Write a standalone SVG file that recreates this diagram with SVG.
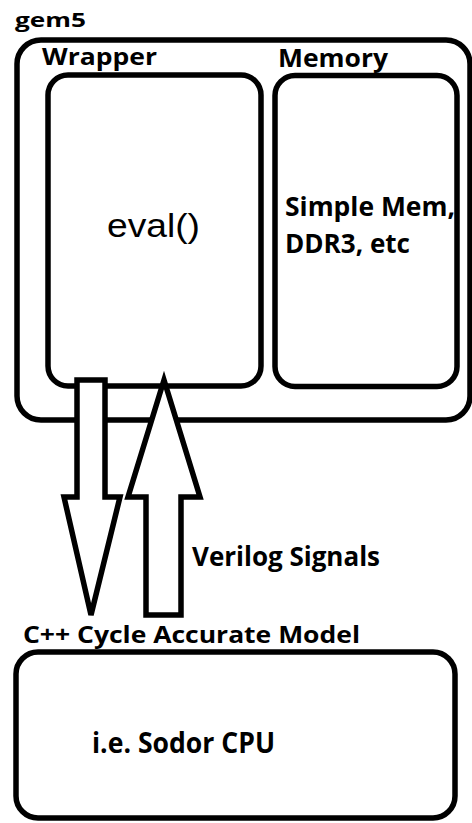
<svg xmlns="http://www.w3.org/2000/svg" width="472" height="823" viewBox="0 0 472 823">
<style>
.box{fill:#fff;stroke:#000;stroke-width:5.5}
.arrow{fill:#fff;stroke:#000;stroke-width:5.5;stroke-linejoin:miter}
.lbl{font-family:"Open Sans","Liberation Sans",sans-serif;font-weight:bold;fill:#000}
.ar{font-family:"Liberation Sans",Arial,sans-serif;fill:#000}
</style>
<rect width="472" height="823" fill="#fff"/>
<g id="node-gem5">
<rect class="box" x="17" y="40" width="453" height="380" rx="24"/>
<text class="lbl" x="15" y="27" font-size="20" textLength="71" lengthAdjust="spacingAndGlyphs">gem5</text>
</g>
<g id="node-wrapper">
<rect class="box" x="48" y="75" width="213" height="311" rx="20"/>
<text class="lbl" x="42" y="65" font-size="24" textLength="115" lengthAdjust="spacingAndGlyphs">Wrapper</text>
<text class="ar" x="107" y="237" font-size="33" textLength="93" lengthAdjust="spacingAndGlyphs">eval()</text>
</g>
<g id="node-memory">
<rect class="box" x="275" y="75.5" width="182" height="311" rx="20"/>
<text class="lbl" x="278" y="67" font-size="25" textLength="110" lengthAdjust="spacingAndGlyphs">Memory</text>
<text class="lbl" x="285" y="216" font-size="27" textLength="170" lengthAdjust="spacingAndGlyphs">Simple Mem,</text>
<text class="lbl" x="285" y="253" font-size="27" textLength="125" lengthAdjust="spacingAndGlyphs">DDR3, etc</text>
</g>
<g id="node-cpu">
<rect class="box" x="16" y="652" width="439" height="166" rx="22"/>
<text class="lbl" x="23" y="643" font-size="24" textLength="337" lengthAdjust="spacingAndGlyphs">C++ Cycle Accurate Model</text>
<text class="lbl" x="92" y="753" font-size="28" textLength="183" lengthAdjust="spacingAndGlyphs">i.e. Sodor CPU</text>
</g>
<g id="connectors">
<polygon class="arrow" points="77,380 105,380 105,497 120,497 91,615 64,497 77,497"/>
<polygon class="arrow" points="164,380 200,497 181,497 181,615 146,615 146,497 128,497"/>
<text class="lbl" x="192" y="566" font-size="26" textLength="188" lengthAdjust="spacingAndGlyphs">Verilog Signals</text>
</g>
</svg>
